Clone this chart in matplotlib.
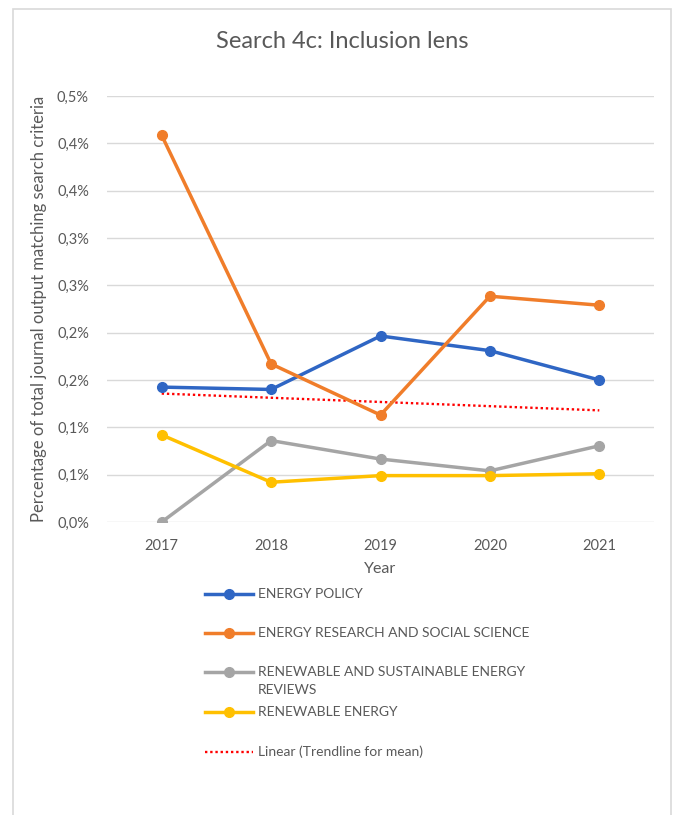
import numpy as np
import matplotlib
matplotlib.use('Agg')
from matplotlib import pyplot as plt
from matplotlib.lines import Line2D
from matplotlib.patches import Rectangle
from matplotlib.ticker import FuncFormatter

plt.rcParams['font.family'] = ['Lato', 'DejaVu Sans']

years = [2017, 2018, 2019, 2020, 2021]

# percentages of total journal output
energy_policy = [0.1425, 0.140, 0.1965, 0.181, 0.150]
energy_research = [0.4085, 0.167, 0.113, 0.2385, 0.229]
renewable_sustainable = [0.0, 0.086, 0.0665, 0.054, 0.0805]
renewable_energy = [0.092, 0.042, 0.049, 0.049, 0.051]

series_names = ['ENERGY POLICY',
                'ENERGY RESEARCH AND SOCIAL SCIENCE',
                'RENEWABLE AND SUSTAINABLE ENERGY\nREVIEWS',
                'RENEWABLE ENERGY']
series_colors = ['#2F66C4', '#F07D2A', '#A5A5A5', '#FFC000']
trend_label = 'Linear (Trendline for mean)'

yticks = [0, 0.05, 0.10, 0.15, 0.20, 0.25, 0.30, 0.35, 0.40, 0.45]

TXT = '#595959'
W, H = 676, 815

fig = plt.figure(figsize=(W / 100, H / 100), dpi=100)
fig.patches.append(Rectangle((13 / W, -0.01), (671 - 13) / W, (H - 9) / H + 0.01,
                             transform=fig.transFigure, fill=False,
                             edgecolor='#D9D9D9', lw=1.2))

ax = fig.add_axes([107 / W, (H - 522) / H, (654 - 107) / W, (522 - 96) / H])
x = np.arange(len(years))
all_series = [energy_policy, energy_research, renewable_sustainable, renewable_energy]
for vals, col in zip(all_series, series_colors):
    ax.plot(x, vals, color=col, lw=2.5, marker='o', ms=7, zorder=3)

# linear trend of the mean of the four journals
mean_vals = np.mean(np.array(all_series), axis=0)
coef = np.polyfit(x, mean_vals, 1)
ax.plot(x, np.polyval(coef, x), color='#FF0000', lw=1.7, ls=(0, (1, 1.2)), zorder=2)

ax.set_xlim(-0.5, len(years) - 0.5)
ax.set_ylim(0, 0.45)
ax.set_xticks(x)
ax.set_xticklabels([str(y) for y in years])
ax.set_yticks(yticks)
ax.yaxis.set_major_formatter(FuncFormatter(
    lambda v, p: ('%.1f%%' % (np.floor(v * 10 + 0.5 + 1e-9) / 10)).replace('.', ',')))
ax.grid(axis='y', color='#D9D9D9', lw=1)
ax.set_axisbelow(True)
for s in ax.spines.values():
    s.set_visible(False)
ax.tick_params(length=0, colors=TXT, labelsize=10.5)
ax.tick_params(axis='y', pad=13)
ax.tick_params(axis='x', pad=12)
ax.set_xlabel('Year', color=TXT, fontsize=11.5, labelpad=7)
ax.set_ylabel('Percentage of total journal output matching search criteria',
              color=TXT, fontsize=12, labelpad=7)

fig.text(342 / W, 1 - 42 / H, 'Search 4c: Inclusion lens', ha='center', va='center',
         color=TXT, fontsize=17)

# legend
leg_y = [594, 633, 672, 712]
for name, col, yy in zip(series_names, series_colors, leg_y):
    fig.add_artist(Line2D([205 / W, 253 / W], [1 - yy / H] * 2, color=col, lw=2.5,
                          transform=fig.transFigure))
    fig.add_artist(Line2D([229 / W], [1 - yy / H], color=col, marker='o', ms=7,
                          transform=fig.transFigure))
    if '\n' in name:
        fig.text(258 / W, 1 - (yy - 6) / H, name, ha='left', va='top',
                 color=TXT, fontsize=10, linespacing=1.6)
    else:
        fig.text(258 / W, 1 - yy / H, name, ha='left', va='center',
                 color=TXT, fontsize=10)
fig.add_artist(Line2D([205 / W, 253 / W], [1 - 752 / H] * 2, color='#FF0000', lw=1.7,
                      ls=(0, (1, 1.2)), transform=fig.transFigure))
fig.text(258 / W, 1 - 752 / H, trend_label, ha='left', va='center', color=TXT, fontsize=10)

fig.savefig('out.png', dpi=100, facecolor='white')
